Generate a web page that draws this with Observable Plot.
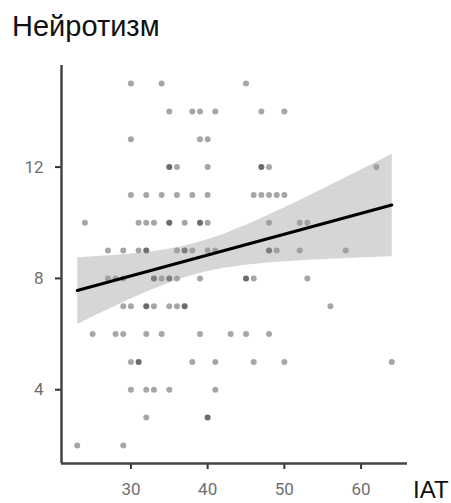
<!DOCTYPE html>
<html>
<head>
<meta charset="utf-8">
<script src="https://cdn.jsdelivr.net/npm/d3@7"></script>
<script src="https://cdn.jsdelivr.net/npm/@observablehq/plot@0.6"></script>
<style>
  html, body { margin: 0; padding: 0; background: #fff; }
  #wrap { position: relative; width: 451px; height: 503px; overflow: hidden; }
  .lbl { position: absolute; font-family: "Liberation Sans", Arial, sans-serif; line-height: 1; color: #111; white-space: nowrap; }
  #title { left: 12px; top: 11.5px; font-size: 29px; }
  #xlab { left: 413px; top: 478px; font-size: 24px; }
</style>
</head>
<body>
<div id="wrap">
  <div id="chart"></div>
  <div class="lbl" id="title">Нейротизм</div>
  <div class="lbl" id="xlab">IAT</div>
</div>
<script>
// IAT score (x) and neuroticism score (y), one entry per respondent
const iat = [
  30, 34, 45,
  35, 38, 39, 41, 47, 50,
  30, 39, 40,
  35, 35, 36, 40, 47, 47, 48, 62,
  30, 32, 34, 36, 38, 40, 46, 47, 48, 49, 50,
  24, 31, 32, 33, 35, 35, 37, 39, 39, 40, 48, 52, 53,
  27, 29, 31, 32, 32, 36, 37, 37, 38, 40, 41, 48, 48, 49, 52, 58,
  27, 28, 29, 33, 33, 34, 35, 35, 36, 39, 45, 45, 46, 53,
  29, 30, 32, 32, 33, 35, 36, 37, 37, 56,
  25, 28, 29, 32, 34, 39, 43, 45, 48,
  30, 31, 31, 38, 41, 46, 50, 64,
  30, 32, 33, 35, 41,
  32, 40, 40,
  23, 29
];
const neuro = [
  15, 15, 15,
  14, 14, 14, 14, 14, 14,
  13, 13, 13,
  12, 12, 12, 12, 12, 12, 12, 12,
  11, 11, 11, 11, 11, 11, 11, 11, 11, 11, 11,
  10, 10, 10, 10, 10, 10, 10, 10, 10, 10, 10, 10, 10,
  9, 9, 9, 9, 9, 9, 9, 9, 9, 9, 9, 9, 9, 9, 9, 9,
  8, 8, 8, 8, 8, 8, 8, 8, 8, 8, 8, 8, 8, 8,
  7, 7, 7, 7, 7, 7, 7, 7, 7, 7,
  6, 6, 6, 6, 6, 6, 6, 6, 6,
  5, 5, 5, 5, 5, 5, 5, 5,
  4, 4, 4, 4, 4,
  3, 3, 3,
  2, 2
];
const xTicks = [30, 40, 50, 60];
const yTicks = [4, 8, 12];
const xDomain = [20.95, 66.05];
const yDomain = [1.35, 15.65];

const data = iat.map((v, i) => ({iat: v, neuro: neuro[i]}));

const chart = Plot.plot({
  width: 451,
  height: 503,
  marginTop: 65,
  marginBottom: 40,
  marginLeft: 61,
  marginRight: 44,
  style: {fontFamily: "Roboto, sans-serif", background: "white"},
  x: {domain: xDomain, label: null},
  y: {domain: yDomain, label: null},
  marks: [
    Plot.dot(data, {x: "iat", y: "neuro", r: 3, fill: "black", fillOpacity: 0.35, stroke: null}),
    Plot.linearRegressionY(data, {x: "iat", y: "neuro", stroke: null, fill: "#999999", fillOpacity: 0.4, ci: 0.95}),
    Plot.linearRegressionY(data, {x: "iat", y: "neuro", stroke: "black", strokeWidth: 3, ci: 0}),
    Plot.axisX(xTicks, {tickSize: 6, tickPadding: 13, stroke: "#333", strokeWidth: 2, fill: "#6e6e6e", fontSize: 17, label: null}),
    Plot.axisY(yTicks, {tickSize: 6, tickPadding: 12, stroke: "#333", strokeWidth: 2, fill: "#6e6e6e", fontSize: 17, label: null}),
    Plot.ruleX([xDomain[0]], {stroke: "#444", strokeWidth: 2.5}),
    Plot.ruleY([yDomain[0]], {stroke: "#444", strokeWidth: 2.5})
  ]
});
document.getElementById("chart").appendChild(chart);
</script>
</body>
</html>
